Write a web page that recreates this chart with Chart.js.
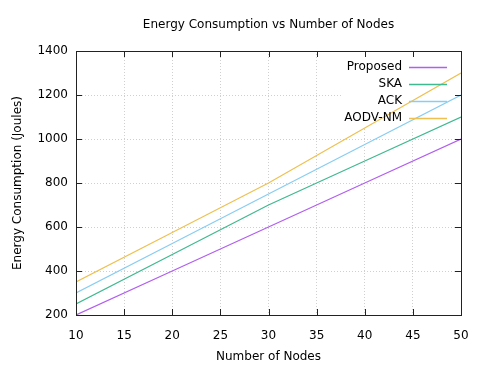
<!DOCTYPE html>
<html>
<head>
  <title>Energy Consumption</title>
  <script src="https://cdn.jsdelivr.net/npm/chart.js"></script>
  <style>
    body { margin: 0; background: #ffffff; }
    #wrap { width: 480px; height: 373px; }
  </style>
</head>
<body>
  <div id="wrap"><canvas id="energyChart" width="480" height="373"></canvas></div>
  <script>
    const nodeCounts = [10, 20, 30, 40, 50];
    const proposed = [200, 400, 600, 800, 1000];
    const ska = [250, 475, 700, 900, 1100];
    const ack = [300, 525, 750, 975, 1200];
    const aodvNm = [350, 575, 800, 1050, 1300];
    const seriesNames = ['Proposed', 'SKA', 'ACK', 'AODV-NM'];
    const seriesColors = ['#b25ef0', '#3fb98f', '#88cdf2', '#efc050'];
    const chartTitle = 'Energy Consumption vs Number of Nodes';

    const fontFamily = '"DejaVu Sans", sans-serif';
    const toPoints = vals => vals.map((v, i) => ({x: nodeCounts[i], y: v}));

    // gnuplot look: title over plot, opaque key, inward mirror ticks, frame
    const gnuplotBits = {
      id: 'gnuplotBits',
      beforeDatasetsDraw(chart) {
        const ctx = chart.ctx, a = chart.chartArea;
        ctx.save();
        ctx.fillStyle = '#ffffff';
        ctx.fillRect(341, a.top + 1, a.right - 341 - 1, 126 - a.top);
        ctx.restore();
      },
      afterDatasetsDraw(chart) {
        const ctx = chart.ctx, a = chart.chartArea;
        const xs = chart.scales.x, ys = chart.scales.y;
        ctx.save();
        ctx.strokeStyle = '#222';
        ctx.lineWidth = 1;
        ctx.beginPath();
        xs.ticks.forEach(t => {
          const px = Math.round(xs.getPixelForValue(t.value)) + 0.5;
          ctx.moveTo(px, a.bottom); ctx.lineTo(px, a.bottom - 6);
          ctx.moveTo(px, a.top); ctx.lineTo(px, a.top + 6);
        });
        ys.ticks.forEach(t => {
          const py = Math.round(ys.getPixelForValue(t.value)) + 0.5;
          ctx.moveTo(a.left, py); ctx.lineTo(a.left + 6, py);
          ctx.moveTo(a.right, py); ctx.lineTo(a.right - 6, py);
        });
        ctx.stroke();
        ctx.strokeRect(Math.round(a.left) + 0.5, Math.round(a.top) + 0.5,
          Math.round(a.right - a.left), Math.round(a.bottom - a.top));

        ctx.font = '12px ' + fontFamily;
        ctx.textBaseline = 'middle';
        ctx.fillStyle = '#000';
        ctx.textAlign = 'center';
        ctx.fillText(chartTitle, (a.left + a.right) / 2, 25);

        ctx.textAlign = 'right';
        const rows = [67, 84, 101, 118];
        ctx.lineWidth = 1.4;
        seriesNames.forEach((name, i) => {
          ctx.fillStyle = '#000';
          ctx.fillText(name, 402, rows[i]);
          ctx.strokeStyle = seriesColors[i];
          ctx.beginPath();
          ctx.moveTo(409, rows[i] + 0.5);
          ctx.lineTo(447, rows[i] + 0.5);
          ctx.stroke();
        });
        ctx.restore();
      }
    };

    const datasets = [proposed, ska, ack, aodvNm].map((vals, i) => ({
      label: seriesNames[i],
      data: toPoints(vals),
      borderColor: seriesColors[i],
      backgroundColor: seriesColors[i],
      borderWidth: 1.2,
      pointRadius: 0,
      tension: 0
    }));

    new Chart(document.getElementById('energyChart'), {
      type: 'line',
      data: { datasets: datasets },
      options: {
        responsive: false,
        animation: false,
        layout: { padding: { left: 0, right: 19, top: 51, bottom: 0 } },
        plugins: {
          legend: { display: false },
          tooltip: { enabled: false },
          title: { display: false }
        },
        scales: {
          x: {
            type: 'linear',
            min: 10,
            max: 50,
            ticks: { stepSize: 5, color: '#000', font: { family: fontFamily, size: 12 }, padding: 14, maxRotation: 0 },
            grid: { color: '#d0d0d0', drawTicks: false },
            border: { display: false, dash: [1, 2] },
            title: {
              display: true,
              text: 'Number of Nodes',
              color: '#000',
              font: { family: fontFamily, size: 12 },
              padding: { top: 0, bottom: 9 }
            },
            afterFit(scale) {
              scale.height = 58;
              scale.paddingLeft = 0;
              scale.paddingRight = 0;
            }
          },
          y: {
            min: 200,
            max: 1400,
            ticks: {
              stepSize: 200, color: '#000', font: { family: fontFamily, size: 12 }, padding: 8,
              callback: v => String(v)
            },
            grid: { color: '#d0d0d0', drawTicks: false },
            border: { display: false, dash: [1, 2] },
            title: {
              display: true,
              text: 'Energy Consumption (Joules)',
              color: '#000',
              font: { family: fontFamily, size: 12 },
              padding: { top: 11, bottom: 0 }
            },
            afterFit(scale) {
              scale.width = 76;
              scale.paddingTop = 0;
              scale.paddingBottom = 0;
            }
          }
        }
      },
      plugins: [gnuplotBits]
    });
  </script>
</body>
</html>
